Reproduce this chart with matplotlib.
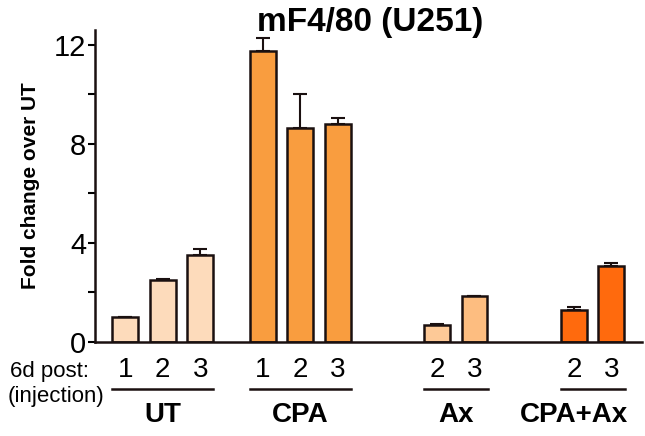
import numpy as np
import matplotlib
matplotlib.use("Agg")
import matplotlib.pyplot as plt

plt.rcParams['font.family'] = ['Liberation Sans', 'DejaVu Sans']

# fold change (mean, SEM) per injection count
groups = ["UT", "CPA", "Ax", "CPA+Ax"]
injections = [["1", "2", "3"], ["1", "2", "3"], ["2", "3"], ["2", "3"]]
means = [[1.0, 2.5, 3.5], [11.77, 8.63, 8.79], [0.68, 1.85], [1.29, 3.06]]
errs = [[0.0, 0.03, 0.25], [0.5, 1.37, 0.24], [0.04, 0.0], [0.12, 0.12]]
colors = [["#fddbbb"] * 3, ["#f99d3f"] * 3, ["#fdc997", "#fdbd80"], ["#ff6a0d"] * 2]

# first bar slot of each group, and nudge for the group name
starts = [0, 3.67, 8.31, 11.96]
name_shift = [0, 0, 0, -0.5]

fig = plt.figure(figsize=(6.45, 4.36), dpi=100)
ax = fig.add_axes([0.147, 0.2156, 0.848, 0.7156])

for g in range(len(groups)):
    xs = starts[g] + np.arange(len(means[g]))
    ax.bar(xs, means[g], width=0.69, color=colors[g], edgecolor="#1a1010",
           linewidth=1.8, zorder=2)
    ax.errorbar(xs, means[g], yerr=[np.zeros(len(errs[g])), errs[g]], fmt="none",
                ecolor="#1a1010", elinewidth=1.5, capsize=5, capthick=1.5, zorder=1)
    for x, lab in zip(xs, injections[g]):
        ax.text(x, -1.15, lab, ha="center", va="center", fontsize=20)
    ax.plot([xs[0] - 0.35, xs[-1] + 0.35], [-1.9, -1.9], color="#1a1010",
            lw=1.8, clip_on=False)
    ax.text(xs.mean() + name_shift[g], -2.95, groups[g], ha="center", va="center",
            fontsize=20, fontweight="bold")

fig.text(10 / 645, 1 - 371 / 436, "6d post:", ha="left", va="center", fontsize=16)
fig.text(8 / 645, 1 - 396 / 436, "(injection)", ha="left", va="center", fontsize=16)

ax.set_xlim(-0.81, 13.77)
ax.set_ylim(0, 12.6)
ax.set_yticks([0, 4, 8, 12])
ax.set_yticks([2, 6, 10], minor=True)
ax.tick_params(axis="y", which="both", direction="out", length=5, width=1.5,
               labelsize=21, pad=1)
ax.set_xticks([])
for s in ["top", "right"]:
    ax.spines[s].set_visible(False)
for s in ["left", "bottom"]:
    ax.spines[s].set_linewidth(1.8)
    ax.spines[s].set_color("#1a1010")

ax.set_ylabel("Fold change over UT", fontsize=15, fontweight="bold", labelpad=10)
fig.text(0.574, 0.948, "mF4/80 (U251)", ha="center", va="center",
         fontsize=24, fontweight="bold")

fig.savefig("out.png", dpi=100)
